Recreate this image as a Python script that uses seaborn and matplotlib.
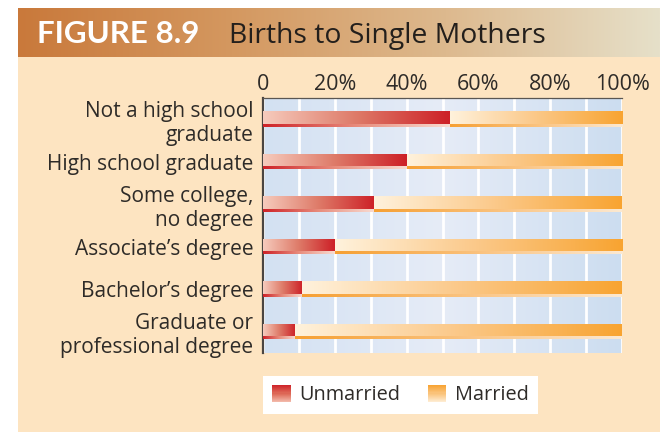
import numpy as np
import pandas as pd
import matplotlib
matplotlib.use("Agg")
import matplotlib.pyplot as plt
from matplotlib.colors import LinearSegmentedColormap
from matplotlib.patches import Rectangle, Patch
from matplotlib.legend_handler import HandlerBase
import seaborn as sns

# ---- data ----
categories = ["Not a high school\ngraduate", "High school graduate",
              "Some college,\nno degree", "Associate\u2019s degree",
              "Bachelor\u2019s degree", "Graduate or\nprofessional degree"]
unmarried = [52, 40, 31, 20, 11, 9]
married = [48, 60, 69, 80, 89, 91]
tick_values = [0, 20, 40, 60, 80, 100]
tick_labels = ["0", "20%", "40%", "60%", "80%", "100%"]
series_names = ["Unmarried", "Married"]

sns.set_theme(style="white")
plt.rcParams["font.family"] = ["Open Sans", "DejaVu Sans"]

PEACH = "#FDE4C1"
TEXT = "#2E2B28"

red_cmap = LinearSegmentedColormap.from_list("red", ["#F6CBBD", "#DE7A68", "#CD2027"])
orange_cmap = LinearSegmentedColormap.from_list("orange", ["#FFF2DC", "#FBC888", "#F8A431"])
red_strip = LinearSegmentedColormap.from_list("rs", ["#CE2228", "#E88C7C", "#F8DCD2"])
orange_strip = LinearSegmentedColormap.from_list("os", ["#F6A033", "#FAC27E", "#FCE9D2"])
band_cmap = LinearSegmentedColormap.from_list("band", ["#C9793B", "#D49860", "#DDB98E", "#E6E0C9"])
plot_cmap = LinearSegmentedColormap.from_list("plot", ["#D3E1F2", "#E6ECF7", "#CCDDF0"])

grad = np.linspace(0, 1, 256)[None, :]

fig = plt.figure(figsize=(6.6, 4.32), dpi=100)
fig.patch.set_facecolor("white")

# peach panel + title band
fig.add_artist(Rectangle((18 / 660, 0), 1, 1 - 57 / 432, transform=fig.transFigure,
                         facecolor=PEACH, edgecolor="none", zorder=0))
band = fig.add_axes([18 / 660, 1 - 57 / 432, 1 - 18 / 660, 49 / 432])
band.imshow(grad, cmap=band_cmap, aspect="auto", extent=[0, 1, 0, 1])
band.axis("off")
fig.text(37 / 660, 1 - 43 / 432, "FIGURE 8.9", color="white", fontsize=22.5,
         fontweight="bold", family=["Lato", "DejaVu Sans"], va="baseline", ha="left")
fig.text(229 / 660, 1 - 43 / 432, "Births to Single Mothers", color="#231F1C",
         fontsize=20.4, va="baseline", ha="left")

# ---- main chart ----
ax = fig.add_axes([263 / 660, 1 - 353 / 432, 359 / 660, 255 / 432])
ax.imshow(grad, cmap=plot_cmap, aspect="auto", extent=[0, 1, 0, 1],
          transform=ax.transAxes, zorder=0)

df = pd.DataFrame({"level": categories, "Unmarried": unmarried, "Married": married})
df["total"] = df["Unmarried"] + df["Married"]

sns.barplot(data=df, x="total", y="level", orient="h", width=0.36,
            color="#F8A431", linewidth=0, ax=ax, zorder=2)
sns.barplot(data=df, x="Unmarried", y="level", orient="h", width=0.36,
            color="#CD2027", linewidth=0, ax=ax, zorder=2)
married_bars = ax.patches[:len(categories)]
unmarried_bars = ax.patches[len(categories):]

strip = 0.06


def gradient_bar(x0, x1, y0, h, body_cmap, strip_cmap):
    # main body of the bar, then a thin darker edge along its lower side
    ax.imshow(grad, cmap=body_cmap, aspect="auto",
              extent=[x0, x1, y0 + h - strip, y0], zorder=3)
    ax.imshow(grad, cmap=strip_cmap, aspect="auto",
              extent=[x0, x1, y0 + h, y0 + h - strip], zorder=3)


for mb, ub in zip(married_bars, unmarried_bars):
    y0, h = ub.get_y(), ub.get_height()
    gradient_bar(0, ub.get_width(), y0, h, red_cmap, red_strip)
    gradient_bar(ub.get_width(), mb.get_x() + mb.get_width(), y0, h, orange_cmap, orange_strip)

ax.set_xlim(0, 100)
ax.set_ylim(len(categories) - 0.5, -0.5)
ax.xaxis.tick_top()
ax.set_xticks(tick_values)
ax.set_xticklabels(tick_labels)
ax.set_xticks(np.arange(10, 100, 20), minor=True)
ax.set_axisbelow(True)
ax.grid(True, axis="x", which="both", color="white", linewidth=2)
ax.grid(False, axis="y")
ax.set_xlabel("")
ax.set_ylabel("")
ax.tick_params(axis="x", which="both", length=0, pad=2, labelsize=15.5, labelcolor=TEXT)
ax.tick_params(axis="y", length=0, pad=7, labelsize=15, labelcolor=TEXT)
for lab in ax.get_yticklabels():
    lab.set_linespacing(1.2)
    lab.set_horizontalalignment("right")

for side in ["right", "bottom"]:
    ax.spines[side].set_visible(False)
ax.spines["left"].set_color("#4A4541")
ax.spines["left"].set_linewidth(1.6)
ax.spines["top"].set_color("#5A5652")
ax.spines["top"].set_linewidth(0.9)
ax.set_facecolor("none")


class GradientHandler(HandlerBase):
    def __init__(self, cmap):
        super().__init__()
        self.cmap = cmap

    def create_artists(self, legend, orig_handle, xdescent, ydescent,
                       width, height, fontsize, trans):
        n = 16
        arts = []
        for i in range(n):
            arts.append(Rectangle((-xdescent, -ydescent + height * i / n), width,
                                  height / n * 1.05, facecolor=self.cmap(i / (n - 1)),
                                  edgecolor="none", transform=trans))
        return arts


legend_red = LinearSegmentedColormap.from_list("lr", ["#F2B7A8", "#DE6A58", "#CF262B"])
legend_orange = LinearSegmentedColormap.from_list("lo", ["#FEEBD0", "#FAC47E", "#F8A434"])
h_unm = Patch(facecolor="#CD2027")
h_mar = Patch(facecolor="#F8A431")
leg = fig.legend([h_unm, h_mar], series_names, loc="upper left",
                 bbox_to_anchor=(263 / 660, 1 - 376 / 432), borderaxespad=0,
                 ncol=2, frameon=True, fancybox=False, facecolor="white",
                 edgecolor="none", framealpha=1, fontsize=14.3,
                 handlelength=0.95, handleheight=0.95, handletextpad=0.45,
                 columnspacing=1.35, borderpad=0.45,
                 handler_map={h_unm: GradientHandler(legend_red),
                              h_mar: GradientHandler(legend_orange)})
for t in leg.get_texts():
    t.set_color(TEXT)

fig.savefig("out.png", dpi=100)
